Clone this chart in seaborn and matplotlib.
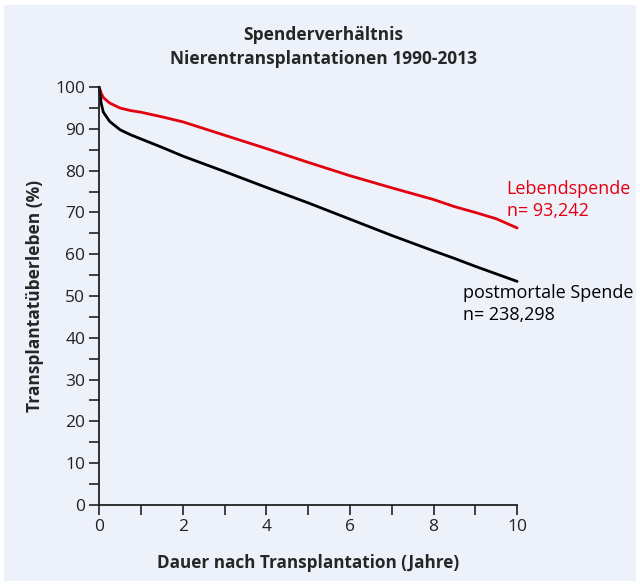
import pandas as pd
import seaborn as sns
import matplotlib.pyplot as plt
from matplotlib.patches import Rectangle
from matplotlib.ticker import MultipleLocator

# survival values
jahre = [0, 0.05, 0.1, 0.25, 0.5, 0.75, 1, 1.5, 2, 3, 4, 5, 6, 7, 8, 8.5, 9, 9.5, 10]
lebend = [100, 98.5, 97.5, 96.2, 95.0, 94.4, 94.0, 92.9, 91.7, 88.5, 85.3, 82.0, 78.8, 75.9, 73.1, 71.4, 70.0, 68.5, 66.3]
postmortal = [100, 96.0, 94.0, 91.8, 89.8, 88.6, 87.6, 85.6, 83.5, 79.8, 76.0, 72.3, 68.4, 64.5, 60.8, 59.0, 57.1, 55.3, 53.5]

df = pd.DataFrame({'Jahre': jahre * 2,
                   'Ueberleben': lebend + postmortal,
                   'Spende': ['Lebendspende'] * len(jahre) + ['postmortale Spende'] * len(jahre)})

sns.set_style('ticks')
plt.rcParams['font.family'] = ['Open Sans', 'DejaVu Sans']

bg = '#edf1fa'
fig = plt.figure(figsize=(6.4, 5.85), dpi=100, facecolor='white')
fig.patches.append(Rectangle((0.006, 0.006), 0.988, 0.985, transform=fig.transFigure,
                             facecolor=bg, edgecolor='none', zorder=-10))
ax = fig.add_axes([0.155, 0.137, 0.653, 0.714])
ax.set_facecolor(bg)

sns.lineplot(data=df, x='Jahre', y='Ueberleben', hue='Spende',
             palette={'Lebendspende': '#e3000f', 'postmortale Spende': 'black'},
             linewidth=2, legend=False, ax=ax, clip_on=False)

ax.set_xlim(0, 10)
ax.set_ylim(0, 100)
ax.xaxis.set_major_locator(MultipleLocator(2))
ax.xaxis.set_minor_locator(MultipleLocator(1))
ax.yaxis.set_major_locator(MultipleLocator(10))
ax.yaxis.set_minor_locator(MultipleLocator(5))
ax.tick_params(which='both', length=7, width=1.2, color='#222222', labelsize=12.5, labelcolor='#222222', pad=3)
for s in ['top', 'right']:
    ax.spines[s].set_visible(False)
for s in ['left', 'bottom']:
    ax.spines[s].set_linewidth(1.3)
    ax.spines[s].set_color('#222222')

ax.set_xlabel('Dauer nach Transplantation (Jahre)', fontsize=12.3, fontweight='bold', labelpad=14)
ax.set_ylabel('Transplantatüberleben (%)', fontsize=12.5, fontweight='bold', labelpad=8)
fig.text(0.505, 0.92, 'Spenderverhältnis\nNierentransplantationen 1990-2013',
         ha='center', va='center', fontsize=12.5, fontweight='bold', linespacing=1.45)

ax.text(9.75, 73.0, 'Lebendspende\nn= 93,242', color='#e3000f', fontsize=13,
        va='center', ha='left', linespacing=1.3, clip_on=False)
ax.text(8.7, 48.0, 'postmortale Spende\nn= 238,298', color='black', fontsize=13,
        va='center', ha='left', linespacing=1.3, clip_on=False)

fig.savefig('out.png', dpi=100, facecolor='white')
